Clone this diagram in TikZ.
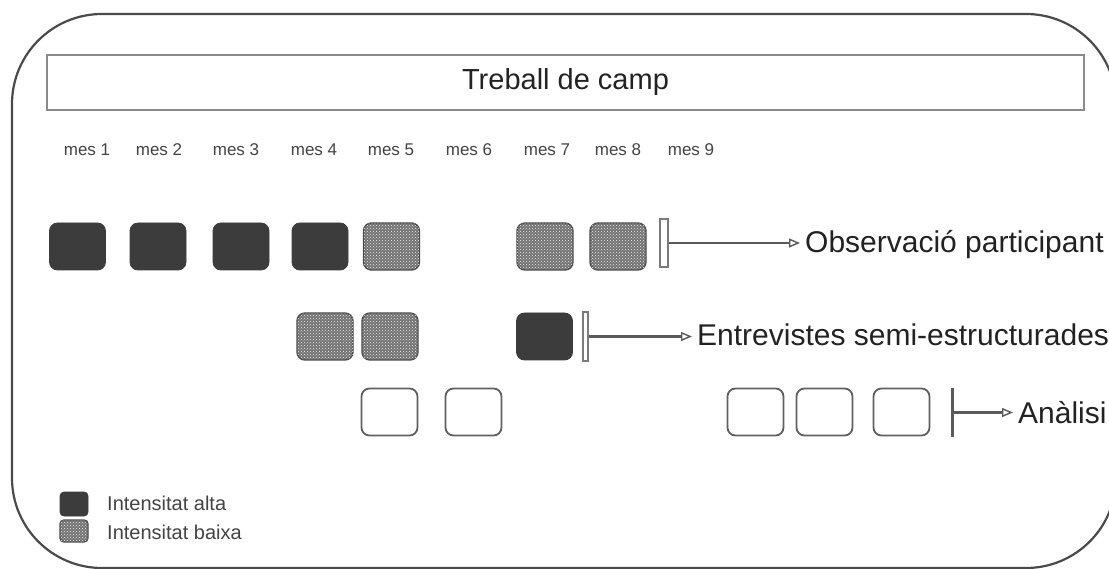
\documentclass[tikz,border=0pt]{standalone}
\usepackage{fontspec}
\setmainfont{Liberation Sans}
\usetikzlibrary{patterns,arrows.meta}
\definecolor{darkfill}{HTML}{3C3C3C}
\definecolor{framecol}{HTML}{4A4A4A}
\definecolor{linecol}{HTML}{5A5A5A}
\definecolor{boxline}{HTML}{8A8A8A}
\definecolor{textcol}{HTML}{222222}
\definecolor{meshcol}{HTML}{727272}
\tikzset{
  cell/.style={minimum width=56pt, minimum height=47pt, rounded corners=8pt, inner sep=0pt},
  high/.style={cell, fill=darkfill, draw=darkfill, line width=0.8pt},
  low/.style={cell, fill=meshcol, draw=framecol, line width=1.4pt,
    postaction={pattern=crosshatch dots, pattern color=white!90!gray}},
  blank/.style={cell, fill=white, draw=gray!75!black, line width=1.8pt},
  month/.style={font=\fontsize{17}{20}\selectfont, text=textcol!85!white, inner sep=0pt},
  task/.style={font=\fontsize{30}{36}\selectfont, text=textcol, inner sep=0pt, anchor=base west},
  legtext/.style={font=\fontsize{20}{24}\selectfont, text=textcol!85!white, inner sep=0pt, anchor=west},
  barbox/.style={fill=white, draw=linecol!80!white, line width=1.2pt, inner sep=0pt},
  arr/.style={draw=linecol, line width=2.2pt, shorten >=5pt,
    -{Triangle[open, length=11pt, width=9pt, fill=white, line width=1.4pt]}},
}
\begin{document}
\begin{tikzpicture}[x=1pt, y=-1pt]
\useasboundingbox (0,0) rectangle (1109,569);
\clip (0,0) rectangle (1109,569);

% outer frame
\draw[framecol, line width=2.2pt, rounded corners=90pt] (12,14) rectangle (1116,568);

% header
\node[draw=boxline, line width=1.6pt, minimum width=1037pt, minimum height=55pt, inner sep=0pt,
      font=\fontsize{29}{34}\selectfont, text=textcol] (title) at (565.5,82.5) {Treball de camp};

% months
\foreach \x/\n in {87/1,159/2,236/3,314/4,391/5,469/6,547/7,618/8,691/9}
  \node[month] (m\n) at (\x,150) {mes \n};

% row 1: participant observation
\node[high] (o1) at (77.5,246.5) {};
\node[high] (o2) at (158,246.5) {};
\node[high] (o3) at (241,246.5) {};
\node[high] (o4) at (320,246.5) {};
\node[low]  (o5) at (391.5,246.5) {};
\node[low]  (o7) at (545,246.5) {};
\node[low]  (o8) at (618,246.5) {};
\node[barbox, minimum width=8pt, minimum height=48pt] (ob) at (664,243) {};
\node[task] (ot) at (805,253) {Observació participant};
\draw[arr] (ob.east) -- (ob.east -| ot.west);

% row 2: interviews
\node[low]  (e4) at (325,336.5) {};
\node[low]  (e5) at (390,336.5) {};
\node[high] (e7) at (544.5,336.5) {};
\node[barbox, minimum width=5pt, minimum height=49pt] (eb) at (585.5,336.5) {};
\node[task] (et) at (697,346) {Entrevistes semi-estructurades};
\draw[arr] (eb.east) -- (eb.east -| et.west);

% row 3: analysis
\node[blank] (a1) at (389.5,412) {};
\node[blank] (a2) at (473.5,412) {};
\node[blank] (a3) at (755.5,412) {};
\node[blank] (a4) at (824.5,412) {};
\node[blank] (a5) at (901.5,412) {};
\node[fill=linecol, minimum width=3pt, minimum height=49pt, inner sep=0pt] (ab) at (952,412.5) {};
\node[task] (at) at (1018,423) {Anàlisi};
\draw[arr] (ab.east) -- (ab.east -| at.west);

% legend
\node[high, minimum width=28pt, minimum height=24pt, rounded corners=4pt] (kh) at (74,504) {};
\node[low, minimum width=28pt, minimum height=22pt, rounded corners=4pt] (kl) at (74,531) {};
\node[legtext] (kht) at (107,503) {Intensitat alta};
\node[legtext] (klt) at (107,532) {Intensitat baixa};
\end{tikzpicture}
\end{document}
